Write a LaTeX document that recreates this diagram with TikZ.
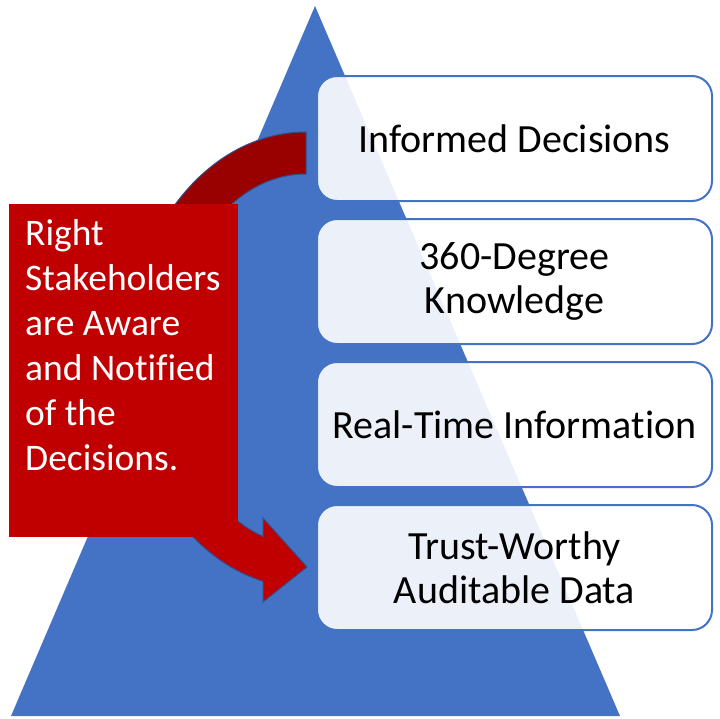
\documentclass[tikz,border=0pt]{standalone}
\usepackage{fontspec}
\setmainfont{Carlito}[Ligatures=NoCommon]
\usetikzlibrary{positioning}
\definecolor{pyramidblue}{RGB}{68,114,196}
\definecolor{awarered}{RGB}{192,0,0}
\definecolor{backred}{RGB}{153,0,0}
\definecolor{edgeblue}{RGB}{47,82,143}
\tikzset{
  tier/.style={draw=pyramidblue, line width=2pt, fill=white, fill opacity=0.9,
    text opacity=1, rounded corners=20pt, minimum width=395pt, minimum height=125pt,
    align=center, outer sep=0pt, inner sep=0pt, font=\fontsize{40}{44}\selectfont},
  awarebox/.style={fill=awarered, minimum width=229pt, minimum height=333pt,
    inner sep=0pt, outer sep=0pt},
  awaretext/.style={text=white, align=left, inner sep=0pt,
    font=\fontsize{37.5}{45}\selectfont},
  bandedge/.style={draw=edgeblue, line width=1pt},
}
\begin{document}
\begin{tikzpicture}[x=1pt,y=-1pt]
  \useasboundingbox (0,0) rectangle (720,718);
  % pyramid
  \fill[pyramidblue] (11,716) -- (315,6) -- (620,716) -- cycle;
  % curved arrow, back part and front part
  \filldraw[bandedge, fill=backred] (306,132)
        arc[start angle=270, end angle=180, x radius=179, y radius=228]
        -- (170,360) arc[start angle=180, end angle=270, x radius=136, y radius=186] -- cycle;
  \filldraw[bandedge, fill=awarered] (127,360)
        arc[start angle=180, end angle=103.9, x radius=179, y radius=228]
        -- (263,602) -- (307,567) -- (263,518) -- (263,536.5)
        arc[start angle=108.4, end angle=180, x radius=136, y radius=186] -- cycle;
  % left panel
  \node[awarebox] (aware) at (123.5,370.5) {};
  \node[awaretext, below right=15pt and 16pt of aware.north west, anchor=north west] (awarelabel)
        {Right\\Stakeholders\\are Aware\\and Notified\\of the\\Decisions.};
  % tiers
  \node[tier] (informed) at (514.5,138.5) {Informed Decisions};
  \node[tier, below=18pt of informed] (knowledge) {360-Degree\\Knowledge};
  \node[tier, below=18pt of knowledge] (realtime) {Real-Time Information};
  \node[tier, below=18pt of realtime] (trusted) {Trust-Worthy\\Auditable Data};
\end{tikzpicture}
\end{document}
